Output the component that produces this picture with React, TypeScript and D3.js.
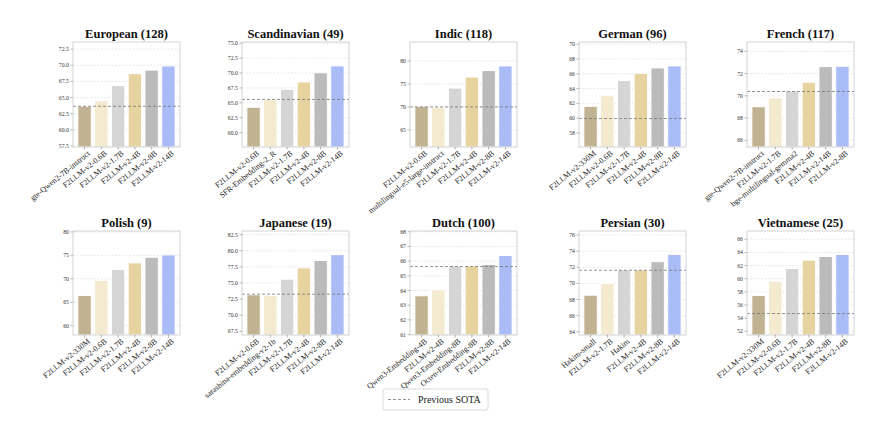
import * as d3 from "d3";

// panel titles, in reading order
const titles = [
  "European (128)", "Scandinavian (49)", "Indic (118)", "German (96)", "French (117)",
  "Polish (9)", "Japanese (19)", "Dutch (100)", "Persian (30)", "Vietnamese (25)",
];

const europeanModels = ["gte-Qwen2-7B-instruct", "F2LLM-v2-0.6B", "F2LLM-v2-1.7B", "F2LLM-v2-4B", "F2LLM-v2-8B", "F2LLM-v2-14B"];
const scandinavianModels = ["F2LLM-v2-0.6B", "SFR-Embedding-2_R", "F2LLM-v2-1.7B", "F2LLM-v2-4B", "F2LLM-v2-8B", "F2LLM-v2-14B"];
const indicModels = ["F2LLM-v2-0.6B", "multilingual-e5-large-instruct", "F2LLM-v2-1.7B", "F2LLM-v2-4B", "F2LLM-v2-8B", "F2LLM-v2-14B"];
const germanModels = ["F2LLM-v2-330M", "F2LLM-v2-0.6B", "F2LLM-v2-1.7B", "F2LLM-v2-4B", "F2LLM-v2-8B", "F2LLM-v2-14B"];
const frenchModels = ["gte-Qwen2-7B-instruct", "F2LLM-v2-1.7B", "bge-multilingual-gemma2", "F2LLM-v2-4B", "F2LLM-v2-14B", "F2LLM-v2-8B"];
const polishModels = ["F2LLM-v2-330M", "F2LLM-v2-0.6B", "F2LLM-v2-1.7B", "F2LLM-v2-4B", "F2LLM-v2-8B", "F2LLM-v2-14B"];
const japaneseModels = ["F2LLM-v2-0.6B", "sarashina-embedding-v2-1b", "F2LLM-v2-1.7B", "F2LLM-v2-4B", "F2LLM-v2-8B", "F2LLM-v2-14B"];
const dutchModels = ["Qwen3-Embedding-4B", "F2LLM-v2-4B", "Qwen3-Embedding-8B", "Octen-Embedding-8B", "F2LLM-v2-8B", "F2LLM-v2-14B"];
const persianModels = ["Hakim-small", "F2LLM-v2-1.7B", "Hakim", "F2LLM-v2-4B", "F2LLM-v2-8B", "F2LLM-v2-14B"];
const vietnameseModels = ["F2LLM-v2-330M", "F2LLM-v2-0.6B", "F2LLM-v2-1.7B", "F2LLM-v2-4B", "F2LLM-v2-8B", "F2LLM-v2-14B"];

const europeanScores = [63.65, 64.5, 66.85, 68.7, 69.25, 69.9];
const scandinavianScores = [64.27, 65.57, 67.26, 68.5, 70.05, 71.2];
const indicScores = [70.07, 69.93, 74.1, 76.5, 77.9, 78.9];
const germanScores = [61.6, 63.05, 65.08, 66.07, 66.8, 67.06];
const frenchScores = [69.02, 69.82, 70.42, 71.22, 72.63, 72.66];
const polishScores = [66.45, 69.65, 72.0, 73.4, 74.6, 75.1];
const japaneseScores = [73.17, 73.1, 75.6, 77.35, 78.5, 79.4];
const dutchScores = [63.64, 64.04, 65.67, 65.67, 65.78, 66.38];
const persianScores = [68.54, 70.0, 71.67, 71.67, 72.7, 73.6];
const vietnameseScores = [57.46, 59.64, 61.56, 62.83, 63.38, 63.7];

// previous SOTA per panel (Polish has none)
const previousSota = [63.65, 65.57, 70.0, 59.95, 70.39, null, 73.27, 65.63, 71.63, 54.7];

// y axis limits and tick steps
const yLimits = [
  [57.35, 73.6], [57.6, 75.2], [61.3, 84.1], [56.1, 70.3], [65.4, 74.84],
  [58.0, 80.2], [66.93, 83.07], [60.97, 68.05], [63.6, 76.5], [51.44, 67.26],
];
const tickSteps = [2.5, 2.5, 5, 2, 2, 5, 2.5, 1, 2, 2];

const models = [europeanModels, scandinavianModels, indicModels, germanModels, frenchModels,
  polishModels, japaneseModels, dutchModels, persianModels, vietnameseModels];
const scores = [europeanScores, scandinavianScores, indicScores, germanScores, frenchScores,
  polishScores, japaneseScores, dutchScores, persianScores, vietnameseScores];

const barColors = ["#c1b392", "#f4eacf", "#d5d5d5", "#e7d3a0", "#bbbbbb", "#a9bcf7"];

const W = 875;
const H = 429;
const panelLefts = [73, 242, 410, 579, 747];
const panelW = 107;
const rowTops = [42, 231];
const rowBottoms = [147, 335];
const serif = { fontFamily: "Liberation Serif, Times New Roman, DejaVu Serif, serif" };

function Panel({ idx }: { idx: number }) {
  const col = idx % 5;
  const row = Math.floor(idx / 5);
  const left = panelLefts[col];
  const right = left + panelW;
  const top = rowTops[row];
  const bottom = rowBottoms[row];

  const x = d3.scaleLinear().domain([-0.69, 5.69]).range([left, right]);
  const y = d3.scaleLinear().domain(yLimits[idx]).range([bottom, top]);
  const step = tickSteps[idx];
  const [y0, y1] = yLimits[idx];
  const ticks = d3.range(Math.ceil(y0 / step - 1e-6) * step, y1 + 1e-6, step);
  const fmt = step % 1 !== 0 ? d3.format(".1f") : d3.format("d");
  const sota = previousSota[idx];

  return (
    <g>
      <text x={(left + right) / 2} y={top - 4} textAnchor="middle" style={serif}
        fontWeight="bold" fontSize={12.5} fill="#111">{titles[idx]}</text>
      {ticks.map((t) => (
        <g key={t}>
          <line x1={left} x2={right} y1={y(t)} y2={y(t)} stroke="#d9d9d9" strokeWidth={0.6}
            strokeDasharray="2,1.5" />
          <line x1={left - 2.5} x2={left} y1={y(t)} y2={y(t)} stroke="#666" strokeWidth={0.5} />
          <text x={left - 4} y={y(t)} dy="0.35em" textAnchor="end" style={serif}
            fontSize={5.8} fill="#333">{fmt(t)}</text>
        </g>
      ))}
      {scores[idx].map((v, i) => (
        <rect key={i} x={x(i - 0.4)} width={x(0.8) - x(0)} y={y(v)} height={bottom - y(v)}
          fill={barColors[i]} stroke="#fff" strokeWidth={1} />
      ))}
      {sota !== null && (
        <line x1={left} x2={right} y1={y(sota)} y2={y(sota)} stroke="#777" strokeWidth={0.8}
          strokeDasharray="3,2" />
      )}
      <rect x={left} y={top} width={panelW} height={bottom - top} fill="none" stroke="#c8c8c8"
        strokeWidth={0.8} />
      {models[idx].map((m, i) => (
        <g key={i}>
          <line x1={x(i)} x2={x(i)} y1={bottom} y2={bottom + 2.5} stroke="#666" strokeWidth={0.5} />
          <text transform={`translate(${x(i) + 2.5},${bottom + 3}) rotate(-39)`} textAnchor="end"
            dy="0.7em" style={serif} fontSize={8} fill="#222">{m}</text>
        </g>
      ))}
    </g>
  );
}

export default function App() {
  return (
    <svg width={W} height={H} style={{ position: "absolute", left: 0, top: 0, background: "#fff" }}>
      <rect width={W} height={H} fill="#fff" />
      {titles.map((_, i) => <Panel key={i} idx={i} />)}
      <g>
        <rect x={383} y={389} width={105} height={21} rx={2} fill="#fff" stroke="#d0d0d0"
          strokeWidth={0.8} />
        <line x1={388} x2={410} y1={399.5} y2={399.5} stroke="#777" strokeWidth={0.8}
          strokeDasharray="3,2" />
        <text x={418} y={403} style={serif} fontSize={10} fill="#222">Previous SOTA</text>
      </g>
    </svg>
  );
}
